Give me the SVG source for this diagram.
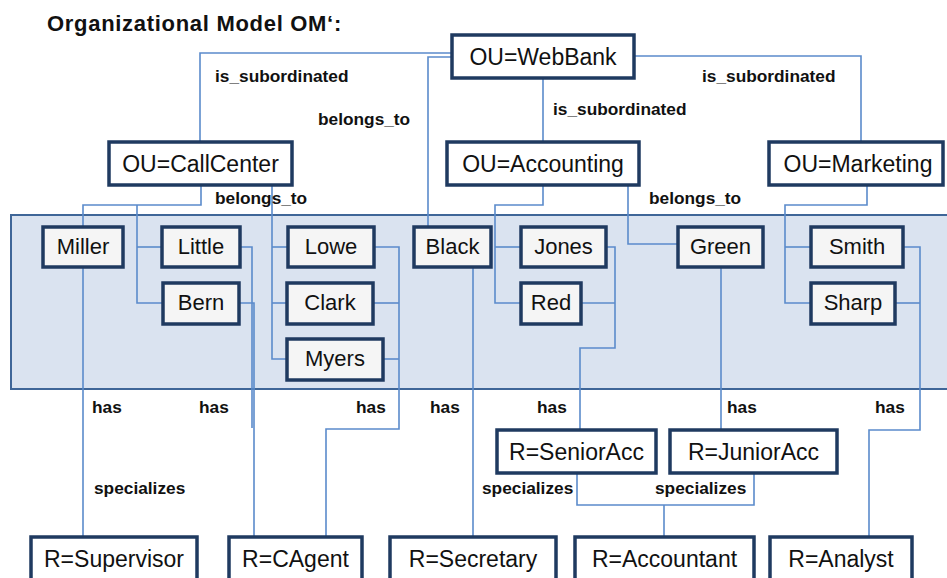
<svg xmlns="http://www.w3.org/2000/svg" width="947" height="578" viewBox="0 0 947 578">
  <style>
    .box { fill: #ffffff; stroke: #1f3a60; stroke-width: 3.5; }
    .person { fill: #f5f5f5; stroke: #1f3a60; stroke-width: 3.5; }
    .name { font-family: "Liberation Sans", Arial, sans-serif; font-size: 23px; fill: #111; text-anchor: middle; }
    .pname { font-family: "Liberation Sans", Arial, sans-serif; font-size: 22px; fill: #111; text-anchor: middle; }
    .lbl { font-family: "Liberation Sans", Arial, sans-serif; font-size: 17.3px; font-weight: bold; fill: #111; }
    .title { font-family: "Liberation Sans", Arial, sans-serif; font-size: 22px; font-weight: bold; fill: #111; letter-spacing: 0.7px; }
    .conn { fill: none; stroke: #5b8bcb; stroke-width: 1.6; }
  </style>

  <rect width="947" height="578" fill="#ffffff"/>

  <text class="title" x="47" y="31">Organizational Model OM‘:</text>

  <!-- personnel band -->
  <rect id="band" x="11" y="215" width="945" height="174" fill="#dae3f0" stroke="#3f6698" stroke-width="2"/>

  <!-- connectors -->
  <g id="connectors" class="conn">
    <!-- is_subordinated -->
    <path d="M452,53 H200 V142"/>
    <path d="M543,78 V142"/>
    <path d="M634,56 H861 V142"/>
    <!-- belongs_to -->
    <path d="M452,57 H428 V227"/>
    <path d="M201,185 V205 H83 V227"/>
    <path d="M137,205 V303 H163"/>
    <path d="M137,247 H162"/>
    <path d="M272,185 V359 H287"/>
    <path d="M272,247 H288"/>
    <path d="M272,303 H287"/>
    <path d="M543,185 V205 H495 V303 H521"/>
    <path d="M495,247 H521"/>
    <path d="M628,185 V244 H678"/>
    <path d="M867,185 V205 H785 V303 H811"/>
    <path d="M785,247 H811"/>
    <!-- has -->
    <path d="M83,267 V537"/>
    <path d="M240,247 H252 V428"/>
    <path d="M239,303 H254 V537"/>
    <path d="M374,247 H399 V429 H326 V537"/>
    <path d="M373,303 H399"/>
    <path d="M383,359 H399"/>
    <path d="M473,267 V537"/>
    <path d="M606,247 H615 V348 H580 V430"/>
    <path d="M581,303 H615"/>
    <path d="M721,267 V430"/>
    <path d="M903,247 H920 V430 H869 V537"/>
    <path d="M895,303 H920"/>
    <!-- specializes -->
    <path d="M577,473 V505 H754 V473"/>
    <path d="M664,505 V537"/>
  </g>

  <!-- connector labels -->
  <g id="labels">
    <text class="lbl" x="215" y="82">is_subordinated</text>
    <text class="lbl" x="318" y="125">belongs_to</text>
    <text class="lbl" x="553" y="115">is_subordinated</text>
    <text class="lbl" x="702" y="82">is_subordinated</text>
    <text class="lbl" x="215" y="204">belongs_to</text>
    <text class="lbl" x="649" y="204">belongs_to</text>
    <text class="lbl" x="92" y="413">has</text>
    <text class="lbl" x="199" y="413">has</text>
    <text class="lbl" x="356" y="413">has</text>
    <text class="lbl" x="430" y="413">has</text>
    <text class="lbl" x="537" y="413">has</text>
    <text class="lbl" x="727" y="413">has</text>
    <text class="lbl" x="875" y="413">has</text>
    <text class="lbl" x="94" y="494">specializes</text>
    <text class="lbl" x="482" y="494">specializes</text>
    <text class="lbl" x="655" y="494">specializes</text>
  </g>

  <!-- organisational units -->
  <g id="ou-webbank"><rect class="box" x="452" y="35" width="182" height="43"/><text class="name" x="543" y="65">OU=WebBank</text></g>
  <g id="ou-callcenter"><rect class="box" x="109" y="142" width="183" height="43"/><text class="name" x="200.5" y="172">OU=CallCenter</text></g>
  <g id="ou-accounting"><rect class="box" x="447" y="142" width="192" height="43"/><text class="name" x="543" y="172">OU=Accounting</text></g>
  <g id="ou-marketing"><rect class="box" x="769" y="142" width="174" height="43"/><text class="name" x="858" y="172">OU=Marketing</text></g>

  <!-- persons -->
  <g id="p-miller"><rect class="person" x="43" y="227" width="80" height="40"/><text class="pname" x="83" y="254">Miller</text></g>
  <g id="p-little"><rect class="person" x="162" y="227" width="78" height="40"/><text class="pname" x="201" y="254">Little</text></g>
  <g id="p-bern"><rect class="person" x="163" y="283" width="76" height="41"/><text class="pname" x="201" y="310">Bern</text></g>
  <g id="p-lowe"><rect class="person" x="288" y="227" width="86" height="40"/><text class="pname" x="331" y="254">Lowe</text></g>
  <g id="p-clark"><rect class="person" x="287" y="283" width="86" height="41"/><text class="pname" x="330" y="310">Clark</text></g>
  <g id="p-myers"><rect class="person" x="287" y="339" width="96" height="41"/><text class="pname" x="335" y="366">Myers</text></g>
  <g id="p-black"><rect class="person" x="414" y="227" width="77" height="40"/><text class="pname" x="452.5" y="254">Black</text></g>
  <g id="p-jones"><rect class="person" x="521" y="227" width="85" height="40"/><text class="pname" x="563.5" y="254">Jones</text></g>
  <g id="p-red"><rect class="person" x="521" y="283" width="60" height="41"/><text class="pname" x="551" y="310">Red</text></g>
  <g id="p-green"><rect class="person" x="678" y="227" width="85" height="40"/><text class="pname" x="720.5" y="254">Green</text></g>
  <g id="p-smith"><rect class="person" x="811" y="227" width="92" height="40"/><text class="pname" x="857" y="254">Smith</text></g>
  <g id="p-sharp"><rect class="person" x="811" y="283" width="84" height="41"/><text class="pname" x="853" y="310">Sharp</text></g>

  <!-- roles -->
  <g id="r-senioracc"><rect class="box" x="497" y="430" width="159" height="43"/><text class="name" x="576.5" y="460">R=SeniorAcc</text></g>
  <g id="r-junioracc"><rect class="box" x="670" y="430" width="167" height="43"/><text class="name" x="753.5" y="460">R=JuniorAcc</text></g>
  <g id="r-supervisor"><rect class="box" x="31" y="537" width="166" height="46"/><text class="name" x="114" y="567">R=Supervisor</text></g>
  <g id="r-cagent"><rect class="box" x="229" y="537" width="133" height="46"/><text class="name" x="295.5" y="567">R=CAgent</text></g>
  <g id="r-secretary"><rect class="box" x="390" y="537" width="166" height="46"/><text class="name" x="473" y="567">R=Secretary</text></g>
  <g id="r-accountant"><rect class="box" x="575" y="537" width="179" height="46"/><text class="name" x="664.5" y="567">R=Accountant</text></g>
  <g id="r-analyst"><rect class="box" x="770" y="537" width="142" height="46"/><text class="name" x="841" y="567">R=Analyst</text></g>
</svg>
